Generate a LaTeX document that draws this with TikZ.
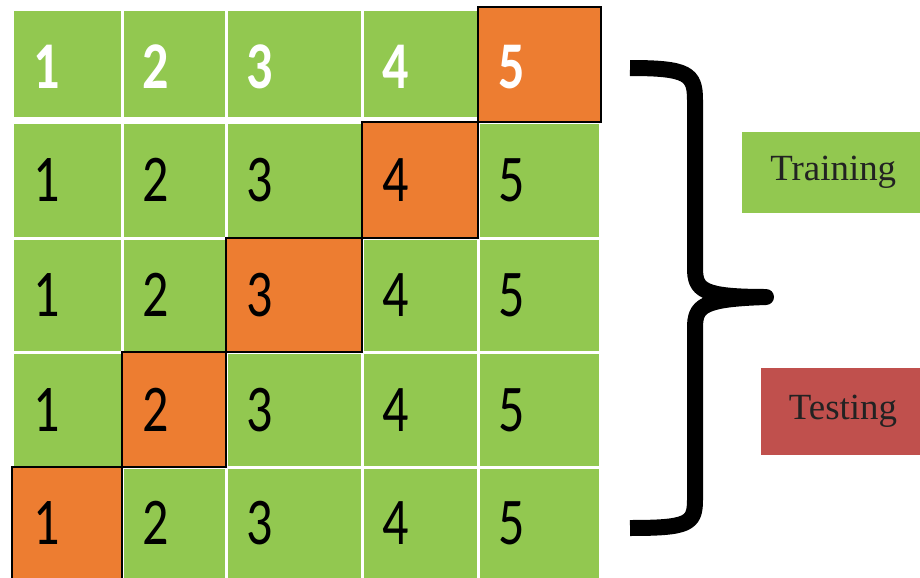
\documentclass[tikz,border=0pt]{standalone}
\usepackage{fontspec}
\setmainfont{Liberation Serif}
\newfontfamily\digitfont{Carlito}
\definecolor{cvgreen}{RGB}{146,200,80}
\definecolor{cvorange}{RGB}{237,125,49}
\definecolor{cvred}{RGB}{192,80,77}
\definecolor{cvtext}{RGB}{34,34,34}
\begin{document}
\begin{tikzpicture}[x=0.02cm,y=-0.02cm,
    cell/.style={fill=cvgreen,draw=white,line width=0.06cm},
    fold/.style={fill=cvorange,draw=black,line width=0.045cm},
    num/.style={anchor=west,inner sep=0pt,font=\digitfont\fontsize{38}{38}\selectfont},
    topnum/.style={num,font=\digitfont\bfseries\fontsize{38}{38}\selectfont,text=white},
    tag/.style={inner sep=0pt,text=cvtext,font=\fontsize{21}{21}\selectfont}]
    \useasboundingbox (0,0) rectangle (920,578);

    % five rows of five folds
    \foreach \r/\yt/\yb in {1/10/118,2/122/238,3/238/352,4/352/467,5/467/582}{
      \foreach \c/\xl/\xr in {1/13/122,2/122/226,3/226/362,4/362/478,5/478/600}{
        \path[cell] (\xl,\yt) rectangle (\xr,\yb);
      }
    }

    % test fold of each round (diagonal)
    \foreach \xl/\yt/\xr/\yb in {478/7/601/122,362/122/478/238,226/238/362/352,122/352/226/467,12/467/122/582}{
      \path[fold] (\xl,\yt) rectangle (\xr,\yb);
    }

    % fold numbers
    \foreach \c/\xl in {1/13,2/122,3/226,4/362,5/478}{
      \node[topnum] (n1\c) at ({\xl+20},67) {\scalebox{.78}[1]{\c}};
      \foreach \r/\ym in {2/180,3/295,4/410,5/523}{
        \node[num] (n\r\c) at ({\xl+20},\ym) {\scalebox{.78}[1]{\c}};
      }
    }

    % brace
    \draw[line width=0.32cm,line join=round]
      (630,68) .. controls (688,68) and (695,74) .. (695,100) -- (695,268)
      .. controls (695,290) and (702,297) .. (766,297)
      .. controls (702,299) and (695,306) .. (695,328) -- (695,500)
      .. controls (695,524) and (688,528) .. (630,528);

    % legend
    \node[tag,fill=cvgreen,minimum width=3.7cm,minimum height=1.62cm] (train) at (834.5,172.5) {\hspace*{-0.05cm}Training};
    \node[tag,fill=cvred,minimum width=3.4cm,minimum height=1.74cm] (test) at (846,411.5) {\hspace*{-0.12cm}Testing};
\end{tikzpicture}
\end{document}
